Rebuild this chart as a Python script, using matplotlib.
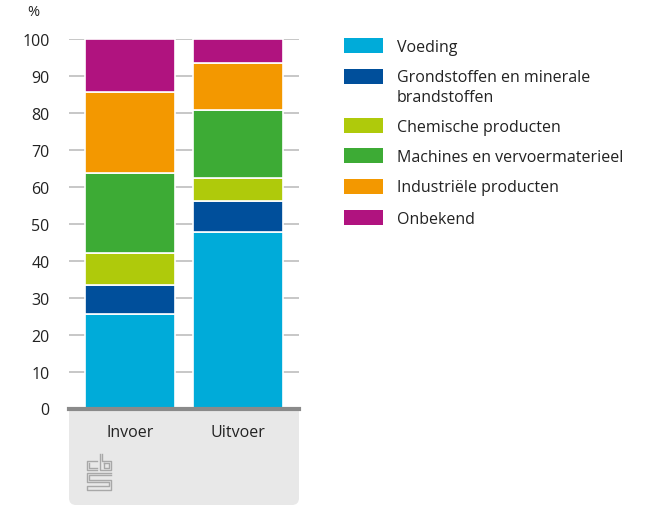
import matplotlib
matplotlib.use("Agg")
import matplotlib.pyplot as plt
from matplotlib.patches import Rectangle, FancyBboxPatch
from matplotlib.lines import Line2D
from matplotlib.transforms import IdentityTransform

plt.rcParams['font.family'] = ['Open Sans', 'DejaVu Sans']

categories = ['Invoer', 'Uitvoer']
series = ['Voeding', 'Grondstoffen en minerale\nbrandstoffen', 'Chemische producten',
          'Machines en vervoermaterieel', 'Industriële producten', 'Onbekend']
colors = ['#00abd9', '#004f9b', '#afca0b', '#3dab35', '#f39800', '#b0137f']

voeding = [25.5, 47.6]
grondstoffen = [8.0, 8.6]
chemisch = [8.5, 6.0]
machines = [21.6, 18.6]
industrieel = [21.9, 12.5]
onbekend = [14.5, 6.7]
values = [voeding, grondstoffen, chemisch, machines, industrieel, onbekend]

yticks = list(range(0, 101, 10))

W, H = 652, 506
FS = 11.5
fig = plt.figure(figsize=(W / 100, H / 100), dpi=100)

# grey footer panel under the axis
panel = FancyBboxPatch((69, 0), 230, 122, boxstyle="round,pad=0,rounding_size=7",
                       transform=IdentityTransform(), facecolor='#e8e8e8',
                       edgecolor='none', zorder=-2)
fig.add_artist(panel)

ax = fig.add_axes([69 / W, (H - 409.5) / H, 230 / W, 369.8 / H])
ax.set_zorder(1)

bottoms = [0.0, 0.0]
for vals, col in zip(values, colors):
    ax.bar(range(len(categories)), vals, width=0.833, bottom=bottoms,
           color=col, edgecolor='white', linewidth=1.2, zorder=3)
    bottoms = [b + v for b, v in zip(bottoms, vals)]

ax.set_xlim(-0.565, 1.565)
ax.set_ylim(0, 100)
ax.set_yticks(yticks)
ax.set_yticklabels([str(t) for t in yticks], fontsize=FS, color='#222222')
ax.set_xticks([])
ax.tick_params(axis='y', length=0, pad=14)
ax.grid(axis='y', color='#bdbdbd', linewidth=1.2, zorder=0)
for s in ['top', 'right', 'left']:
    ax.spines[s].set_visible(False)
ax.spines['bottom'].set_color('#8a8a8a')
ax.spines['bottom'].set_linewidth(3)
ax.spines['bottom'].set_zorder(4)

fig.text(33 / W, 1 - 12 / H, '%', fontsize=FS - 1, color='#222222', ha='center', va='center')

# category labels in the footer
for i, cat in enumerate(categories):
    x_disp = ax.transData.transform((i, 0))[0]
    fig.text(x_disp / W, 1 - 433 / H, cat, fontsize=FS, color='#222222',
             ha='center', va='center')

# legend drawn by hand so the two-line label lines up like the original
patch_tops = [39, 70, 119, 149, 180, 211]
for lab, col, top in zip(series, colors, patch_tops):
    fig.add_artist(Rectangle((344 / W, 1 - (top + 15) / H), 39 / W, 15 / H,
                             transform=fig.transFigure, facecolor=col, edgecolor='none'))
    for j, line in enumerate(lab.split('\n')):
        yc = top + 8.5 + j * 19
        fig.text(397 / W, 1 - yc / H, line, fontsize=FS, color='#222222',
                 ha='left', va='center')

# small cbs logo, rough outline
logo = [
    [(97, 462), (87, 462), (87, 471), (97, 471)],
    [(89, 464), (89, 469), (97, 469)],
    [(100, 455), (100, 471), (111, 471), (111, 462), (102, 462), (102, 455)],
    [(104, 464), (109, 464), (109, 469), (104, 469), (104, 464)],
    [(111, 474), (87, 474), (87, 483), (109, 483), (109, 487), (87, 487), (87, 491), (111, 491), (111, 481), (89, 481), (89, 476), (111, 476)],
]
for pts in logo:
    xs = [p[0] / W for p in pts]
    ys = [1 - p[1] / H for p in pts]
    fig.add_artist(Line2D(xs, ys, transform=fig.transFigure, color='#a8a8a8', linewidth=1))

fig.savefig('out.png', dpi=100, facecolor='white')
